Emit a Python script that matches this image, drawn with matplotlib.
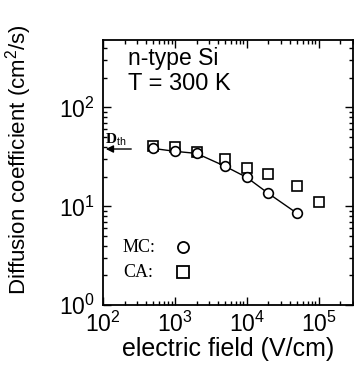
import matplotlib
matplotlib.use("Agg")
import matplotlib.pyplot as plt
from matplotlib.ticker import LogLocator, NullFormatter

plt.rcParams['font.family'] = ['Liberation Sans', 'DejaVu Sans']
plt.rcParams['mathtext.fontset'] = 'custom'
plt.rcParams['mathtext.rm'] = 'Liberation Sans'
plt.rcParams['mathtext.it'] = 'Liberation Sans:italic'
plt.rcParams['mathtext.bf'] = 'Liberation Sans:bold'

# Data
mc_field = [500, 1000, 2000, 5000, 10000, 20000, 50000]
mc_diff = [38.5, 36.0, 34.3, 25.4, 19.6, 13.5, 8.5]
ca_field = [500, 1000, 2000, 5000, 10000, 20000, 50000, 100000]
ca_diff = [40.4, 39.4, 35.1, 29.8, 24.2, 21.0, 15.9, 11.0]
d_th = 38.0

fig = plt.figure(figsize=(3.54, 3.65), dpi=100)
ax = fig.add_axes([0.291, 0.164, 0.706, 0.726])

ax.plot(mc_field, mc_diff, '-', color='black', lw=1.0, zorder=2)
ax.plot(mc_field, mc_diff, 'o', ms=7, mfc='white', mec='black', mew=1.2, zorder=3)
ax.plot(ca_field, ca_diff, 's', ms=7, mfc='white', mec='black', mew=1.2, zorder=2.5)

ax.set_xscale('log')
ax.set_yscale('log')
ax.set_xlim(100, 3e5)
ax.set_ylim(1, 480)

ax.xaxis.set_major_locator(LogLocator(base=10, numticks=10))
ax.yaxis.set_major_locator(LogLocator(base=10, numticks=10))
ax.xaxis.set_minor_locator(LogLocator(base=10, subs=range(2, 10), numticks=20))
ax.yaxis.set_minor_locator(LogLocator(base=10, subs=range(2, 10), numticks=20))
ax.xaxis.set_minor_formatter(NullFormatter())
ax.yaxis.set_minor_formatter(NullFormatter())

ax.tick_params(which='both', direction='in', top=True, right=True, width=1.0)
ax.tick_params(which='major', length=6, labelsize=16.5)
ax.tick_params(axis='x', which='major', pad=5)
ax.tick_params(axis='y', which='major', pad=6)
ax.tick_params(which='minor', length=3)
for s in ax.spines.values():
    s.set_linewidth(1.3)

ax.set_xlabel('electric field (V/cm)', fontsize=18, labelpad=0)
ax.set_ylabel('Diffusion coefficient (cm$^2$/s)', fontsize=16)
ax.yaxis.set_label_coords(-0.275, 0.55)

ax.text(0.10, 0.906, 'n-type Si', transform=ax.transAxes, fontsize=16.5,
        va='baseline', ha='left')
ax.text(0.10, 0.811, 'T = 300 K', transform=ax.transAxes, fontsize=17,
        va='baseline', ha='left')

ax.annotate('', xy=(100, d_th), xytext=(270, d_th),
            arrowprops=dict(arrowstyle='-|>', color='black', lw=1.0, mutation_scale=11))
ax.text(0.008, 0.61, r'D$_{\rm th}$', transform=ax.transAxes, fontsize=11,
        family='Liberation Serif', fontweight='bold', va='baseline', ha='left')

ax.text(0.08, 0.219, 'MC:', transform=ax.transAxes, fontsize=13,
        family='Liberation Serif', va='center', ha='left')
ax.text(0.08, 0.125, 'CA:', transform=ax.transAxes, fontsize=13,
        family='Liberation Serif', va='center', ha='left')
ax.plot([0.32], [0.219], 'o', ms=8, mfc='white', mec='black', mew=1.3, transform=ax.transAxes)
ax.plot([0.32], [0.125], 's', ms=8, mfc='white', mec='black', mew=1.3, transform=ax.transAxes)

fig.savefig('out.png', dpi=100)
